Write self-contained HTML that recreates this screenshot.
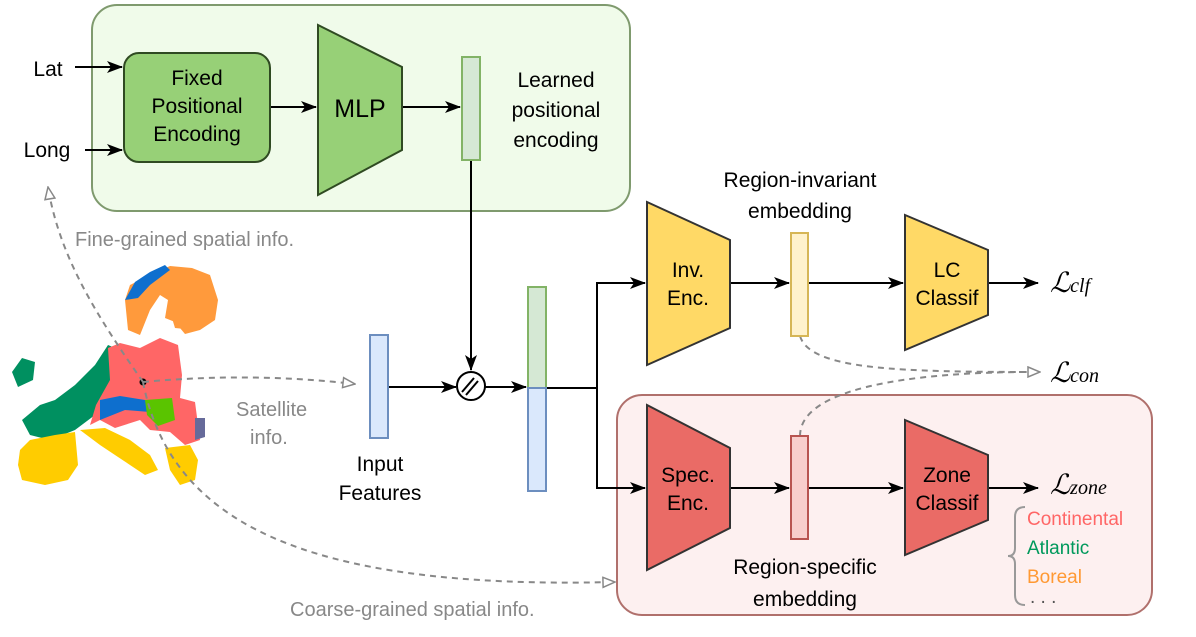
<!DOCTYPE html>
<html><head><meta charset="utf-8"><style>body{margin:0;background:#fff}svg{display:block}</style></head><body>
<svg width="1196" height="637" viewBox="0 0 1196 637" xmlns="http://www.w3.org/2000/svg" font-family="Liberation Sans, sans-serif">
<defs>
<marker id="a" markerWidth="16" markerHeight="12" refX="15" refY="6" orient="auto" markerUnits="userSpaceOnUse"><path d="M0,0 L16,6 L0,12 L4,6z" fill="#000"/></marker>
<marker id="o" markerWidth="14" markerHeight="12" refX="13" refY="6" orient="auto" markerUnits="userSpaceOnUse"><path d="M1,1 L13,6 L1,11z" fill="#fff" stroke="#888" stroke-width="1.5"/></marker>
</defs>
<rect x="92" y="5" width="538" height="206" rx="25" fill="#f0fbea" stroke="#7f9a6e" stroke-width="2"/>
<rect x="617" y="395" width="535" height="220" rx="25" fill="#fdf0f0" stroke="#b0706c" stroke-width="2"/>
<!-- map -->
<g>
<path d="M125,300 L130,285 L150,275 L170,266 L192,268 L210,275 L218,300 L215,320 L200,330 L185,334 L175,322 L165,318 L168,300 L160,295 L150,310 L140,335 L128,330 Z" fill="#ff9a3c"/>
<path d="M168,305 L200,300 L208,320 L195,330 L175,328Z" fill="#ff9a3c"/>
<path d="M125,300 L135,282 L150,272 L165,265 L170,270 L150,285 L138,298 Z" fill="#0e6fce"/>
<path d="M12,372 L22,358 L35,362 L33,380 L18,387 Z" fill="#009060"/>
<path d="M40,405 L55,400 L75,385 L95,365 L108,345 L120,350 L112,380 L95,415 L75,430 L50,440 L30,435 L22,420 Z" fill="#009060"/>
<path d="M108,348 L120,343 L140,348 L160,338 L178,345 L182,375 L180,398 L195,402 L200,440 L185,445 L170,432 L150,430 L140,420 L115,428 L100,420 L90,425 L96,405 L110,380 Z" fill="#ff6666"/>
<path d="M100,400 L120,396 L145,400 L150,412 L125,410 L100,420Z" fill="#0e6fce"/>
<path d="M145,400 L172,398 L175,420 L158,426 L147,415Z" fill="#5ac400"/>
<path d="M195,418 L205,418 L205,437 L195,440Z" fill="#666a9a"/>
<path d="M20,450 L30,440 L55,435 L75,432 L78,465 L68,480 L45,485 L22,480 L18,465Z" fill="#ffcc00"/>
<path d="M80,430 L105,428 L130,440 L150,455 L158,470 L145,475 L130,465 L115,455 L100,445 Z" fill="#ffcc00"/>
<path d="M165,448 L190,445 L198,460 L195,480 L180,485 L170,470Z" fill="#ffcc00"/>
<circle cx="143" cy="382" r="3.5" fill="#000"/>
</g>
<g fill="none" stroke="#888" stroke-width="2" stroke-dasharray="6,5">
<path d="M143,382 C100,320 60,260 48,187" marker-end="url(#o)"/>
<path d="M143,382 Q250,372 355,384" marker-end="url(#o)"/>
<path d="M143,382 C170,520 300,590 615,582" marker-end="url(#o)"/>
<path d="M800,336 C810,370 900,372 1040,372" marker-end="url(#o)"/>
<path d="M800,436 C800,380 950,372 1030,372"/>
</g>
<g stroke="#000" stroke-width="2" fill="none">
<line x1="75" y1="67" x2="122" y2="67" marker-end="url(#a)"/>
<line x1="85" y1="150" x2="122" y2="150" marker-end="url(#a)"/>
<line x1="270" y1="107" x2="316" y2="107" marker-end="url(#a)"/>
<line x1="402" y1="107" x2="460" y2="107" marker-end="url(#a)"/>
<line x1="471" y1="160" x2="471" y2="370" marker-end="url(#a)"/>
<line x1="388" y1="387" x2="456" y2="387" marker-end="url(#a)"/>
<line x1="485" y1="387" x2="526" y2="387" marker-end="url(#a)"/>
<path d="M546,388 L597,388 L597,283 L645,283" marker-end="url(#a)"/>
<path d="M597,388 L597,488 L645,488" marker-end="url(#a)"/>
<line x1="730" y1="283" x2="789" y2="283" marker-end="url(#a)"/>
<line x1="808" y1="283" x2="903" y2="283" marker-end="url(#a)"/>
<line x1="988" y1="283" x2="1038" y2="283" marker-end="url(#a)"/>
<line x1="730" y1="488" x2="789" y2="488" marker-end="url(#a)"/>
<line x1="808" y1="488" x2="903" y2="488" marker-end="url(#a)"/>
<line x1="988" y1="488" x2="1038" y2="488" marker-end="url(#a)"/>
</g>
<rect x="124" y="53" width="146" height="109" rx="15" fill="#97d077" stroke="#2f4a22" stroke-width="2"/>
<path d="M318,25 L402,67 L402,150 L318,195Z" fill="#97d077" stroke="#2f4a22" stroke-width="2"/>
<rect x="462" y="57" width="18" height="103" fill="#d5e8d4" stroke="#82b366" stroke-width="2"/>
<rect x="370" y="335" width="18" height="103" fill="#dae8fc" stroke="#6c8ebf" stroke-width="2"/>
<circle cx="471" cy="386" r="14" fill="#fff" stroke="#000" stroke-width="2"/>
<g stroke="#000" stroke-width="2"><line x1="462" y1="392" x2="474" y2="378"/><line x1="466" y1="395" x2="478" y2="381"/></g>
<rect x="528" y="287" width="18" height="101" fill="#d5e8d4" stroke="#82b366" stroke-width="2"/>
<rect x="528" y="388" width="18" height="103" fill="#dae8fc" stroke="#6c8ebf" stroke-width="2"/>
<path d="M647,202 L730,240 L730,328 L647,365Z" fill="#ffd966" stroke="#333" stroke-width="2"/>
<rect x="791" y="233" width="17" height="103" fill="#fff2cc" stroke="#d6b656" stroke-width="2"/>
<path d="M905,215 L988,250 L988,315 L905,350Z" fill="#ffd966" stroke="#333" stroke-width="2"/>
<path d="M647,405 L730,448 L730,528 L647,570Z" fill="#ea6b66" stroke="#333" stroke-width="2"/>
<rect x="791" y="436" width="17" height="103" fill="#f8cecc" stroke="#b85450" stroke-width="2"/>
<path d="M905,420 L988,455 L988,520 L905,555Z" fill="#ea6b66" stroke="#333" stroke-width="2"/>
<path d="M1025,507 Q1015,507 1015,517 L1015,548 Q1015,556 1008,556 Q1015,556 1015,564 L1015,595 Q1015,605 1025,605" fill="none" stroke="#999" stroke-width="2"/>
<g font-size="21" fill="#000" text-anchor="middle">
<text x="48" y="76">Lat</text>
<text x="47" y="157">Long</text>
<text x="197" y="85">Fixed</text>
<text x="197" y="113">Positional</text>
<text x="197" y="141">Encoding</text>
<text x="360" y="117" font-size="25">MLP</text>
<text x="556" y="87">Learned</text>
<text x="556" y="117">positional</text>
<text x="556" y="147">encoding</text>
<text x="380" y="471">Input</text>
<text x="380" y="500">Features</text>
<text x="688" y="277">Inv.</text>
<text x="688" y="305">Enc.</text>
<text x="800" y="187">Region-invariant</text>
<text x="800" y="218">embedding</text>
<text x="947" y="277">LC</text>
<text x="947" y="305">Classif</text>
<text x="688" y="482">Spec.</text>
<text x="688" y="510">Enc.</text>
<text x="805" y="574">Region-specific</text>
<text x="805" y="606">embedding</text>
<text x="947" y="482">Zone</text>
<text x="947" y="510">Classif</text>
</g>
<g font-size="20" fill="#888">
<text x="75" y="246">Fine-grained spatial info.</text>
<text x="236" y="416">Satellite</text>
<text x="250" y="444">info.</text>
<text x="290" y="616">Coarse-grained spatial info.</text>
</g>
<g font-family="Liberation Serif, serif" font-style="italic" fill="#000">
<text x="1050" y="292" font-size="28">ℒ<tspan font-size="20">clf</tspan></text>
<text x="1050" y="382" font-size="28">ℒ<tspan font-size="20">con</tspan></text>
<text x="1050" y="494" font-size="28">ℒ<tspan font-size="20">zone</tspan></text>
</g>
<g font-size="19">
<text x="1027" y="525" fill="#ff6666">Continental</text>
<text x="1027" y="554" fill="#00995c">Atlantic</text>
<text x="1027" y="583" fill="#ff9933">Boreal</text>
<text x="1030" y="603" fill="#555">. . .</text>
</g>
</svg>
</body></html>
